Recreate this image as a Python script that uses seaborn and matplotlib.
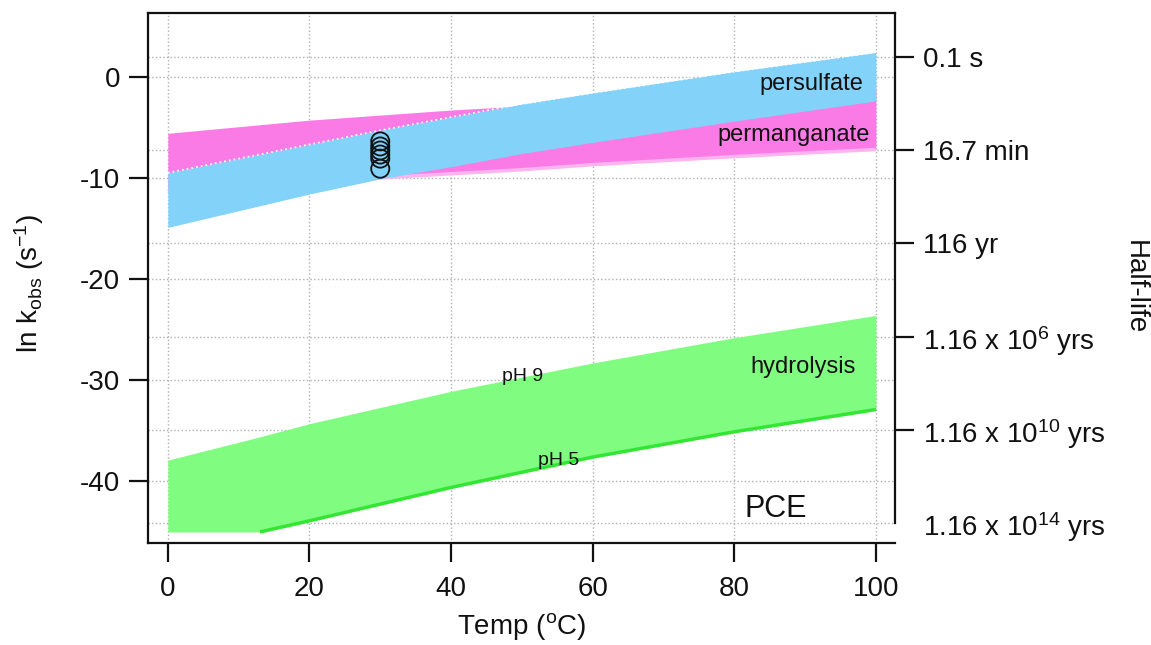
import numpy as np
import pandas as pd
import seaborn as sns
import matplotlib.pyplot as plt

# temperature grid (deg C) for the oxidant bands
temp = [0, 20, 30, 40, 50, 60, 80, 100]
persulfate_hi = [-9.5, -6.7, -5.3, -4.0, -2.7, -1.6, 0.5, 2.4]
persulfate_lo = [-14.9, -11.6, -10.1, -8.9, -7.6, -6.5, -4.4, -2.4]
permanganate_hi = [-5.6, -4.3, -3.8, -3.3, -2.9, -2.5, -1.8, -1.2]
permanganate_lo = [-11.3, -10.5, -10.0, -9.6, -9.2, -8.7, -7.9, -7.2]

# hydrolysis band (pH 9 upper, pH 5 lower, floor at -45)
hyd_temp = [0, 13, 20, 40, 60, 80, 100]
hyd_ph9 = [-37.9, -35.6, -34.3, -31.1, -28.3, -25.8, -23.6]
hyd_floor = [-45.0, -45.0, -43.9, -40.6, -37.6, -35.1, -32.9]
ph5_temp = [13, 20, 40, 60, 80, 100]
ph5_line = [-45.0, -43.9, -40.6, -37.6, -35.1, -32.9]

# measured points at 30 C
obs_temp = [30, 30, 30, 30, 30, 30]
obs_lnk = [-6.4, -6.9, -7.3, -7.7, -8.1, -9.1]

# right axis: half-lives (s) and their labels
halflife_s = [0.1, 1e3, 1e7, 1e11, 1e15, 1e19]
halflife_labels = ['0.1 s', '16.7 min', '116 yr',
                   '1.16 x 10$^{6}$ yrs', '1.16 x 10$^{10}$ yrs',
                   '1.16 x 10$^{14}$ yrs']

sns.set_theme(style='ticks')
plt.rcParams['font.family'] = ['Liberation Sans', 'DejaVu Sans']
plt.rcParams['mathtext.default'] = 'regular'
plt.rcParams['axes.unicode_minus'] = False

pink = '#fa7ae6'
blue = '#82d2fa'
green = '#80fc80'
ink = '#111111'

fig = plt.figure(figsize=(11.51, 6.45), dpi=100)
ax = fig.add_axes([0.1286, 0.158, 0.649, 0.822])
ax.set_axisbelow(True)

ax.fill_between(temp, permanganate_lo, permanganate_hi, color=pink, lw=0, zorder=1)
sns.lineplot(x=temp, y=permanganate_lo, color='#ffb4f0', lw=2.5, ax=ax, zorder=1.1,
             solid_capstyle='butt')
ax.fill_between(temp, persulfate_lo, persulfate_hi, color=blue, lw=0, zorder=2)
sns.lineplot(x=temp, y=persulfate_hi, color='white', lw=1.3, ls=':', ax=ax, zorder=2.1)

ax.fill_between(hyd_temp, hyd_floor, hyd_ph9, color=green, lw=0, zorder=2)
sns.lineplot(x=ph5_temp, y=ph5_line, color='#33e633', lw=2.5, ax=ax, zorder=2.2,
             solid_capstyle='butt')

sns.scatterplot(x=obs_temp, y=obs_lnk, marker='o', s=170, facecolors='none',
                edgecolors=ink, linewidths=1.3, ax=ax, zorder=3)

ax.set_xlim(-2.8, 102.7)
ax.set_ylim(-46.1, 6.3)
ax.set_xticks([0, 20, 40, 60, 80, 100])
ax.set_yticks([0, -10, -20, -30, -40])

right_pos = [np.log(np.log(2) / t) for t in halflife_s]
ax.set_yticks(right_pos, minor=True)
ax.grid(which='major', axis='both', color='#b0b0b0', ls=':', lw=1.0)
ax.grid(which='minor', axis='y', color='#b0b0b0', ls=':', lw=1.0)

ax.tick_params(which='major', direction='out', length=14, width=1.6,
               labelsize=20, color=ink, labelcolor=ink)
ax.tick_params(axis='x', which='major', pad=10)
ax.tick_params(axis='y', which='major', pad=6)
ax.tick_params(which='minor', length=0)
for side in ['left', 'top', 'bottom']:
    ax.spines[side].set_linewidth(1.6)
    ax.spines[side].set_color(ink)
ax.spines['right'].set_visible(False)

ax.set_xlabel('Temp ($^{o}$C)', fontsize=20, labelpad=6, color=ink)
ax.set_ylabel('ln k$_{obs}$ (s$^{-1}$)', fontsize=20, color=ink)
ax.yaxis.set_label_coords(-0.137, 0.49)

ax2 = ax.twinx()
ax2.set_ylim(ax.get_ylim())
ax2.set_yticks(right_pos)
ax2.set_yticklabels(halflife_labels)
ax2.tick_params(direction='out', length=14, width=1.6, labelsize=20,
                color=ink, labelcolor=ink, pad=6)
# lowest half-life label sits at the end of the spine, without a tick mark
last_tick = ax2.yaxis.get_major_ticks()[-1]
last_tick.tick2line.set_visible(False)
for side in ['left', 'top', 'bottom']:
    ax2.spines[side].set_visible(False)
ax2.spines['right'].set_linewidth(1.6)
ax2.spines['right'].set_color(ink)
ax2.spines['right'].set_bounds(right_pos[-1], 6.3)
fig.text(1135 / 1151, 1 - 287 / 645, 'Half-life', fontsize=20, rotation=-90,
         ha='center', va='center', color=ink)

ax.text(98.2, -0.7, 'persulfate', fontsize=17, ha='right', va='center', color=ink)
ax.text(99.2, -5.8, 'permanganate', fontsize=17, ha='right', va='center', color=ink)
ax.text(97.2, -28.7, 'hydrolysis', fontsize=17, ha='right', va='center', color=ink)
ax.text(47.2, -29.6, 'pH 9', fontsize=14, ha='left', va='center', color=ink)
ax.text(52.3, -37.9, 'pH 5', fontsize=14, ha='left', va='center', color=ink)
ax.text(81.5, -42.7, 'PCE', fontsize=22, ha='left', va='center', color=ink)

fig.savefig('out.png', dpi=100)
